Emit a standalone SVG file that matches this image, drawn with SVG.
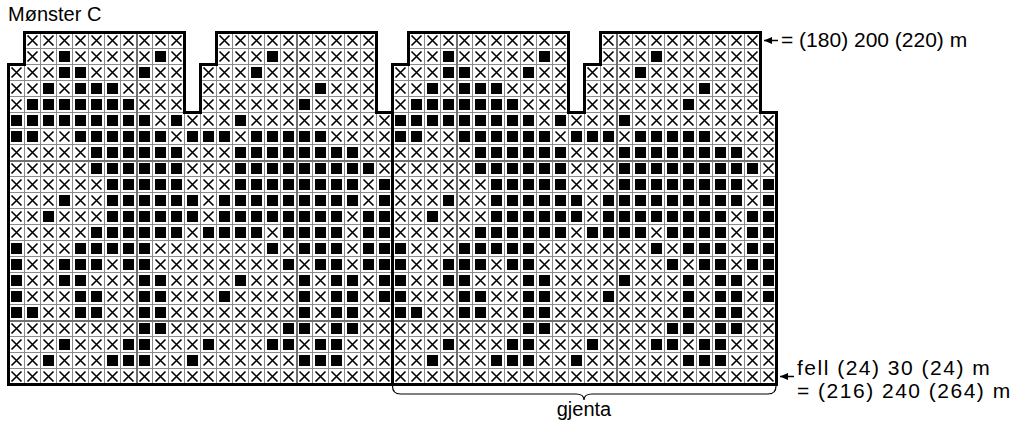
<svg xmlns="http://www.w3.org/2000/svg" width="1019" height="432" viewBox="0 0 1019 432">
<style>
text{font-family:"Liberation Sans",Arial,sans-serif;font-size:20px;fill:#000}
.r{font-size:21px}
.b{font-size:21px;letter-spacing:1.5px}
.o{fill:none;stroke:#000;stroke-width:3;stroke-linejoin:miter}
.g{fill:none;stroke:#707070;stroke-width:2}
.a{fill:none;stroke:#000;stroke-width:1.5}
.br{fill:none;stroke:#000;stroke-width:1.2}
</style>
<defs>
<pattern id="px" patternUnits="userSpaceOnUse" x="8" y="32" width="16" height="16">
<rect width="16" height="16" fill="#fff"/>
<rect width="16" height="1" fill="#8c8c8c"/>
<rect width="1" height="16" fill="#8c8c8c"/>
<path d="M3.5 3.5L13.5 13.5M13.5 3.5L3.5 13.5" stroke="#000" stroke-width="1.6"/>
</pattern>
<marker id="ah" markerUnits="userSpaceOnUse" viewBox="0 0 8 7" refX="8" refY="3.5" markerWidth="8" markerHeight="7" orient="auto"><path d="M0 0L8 3.5L0 7Z" fill="#000"/></marker>
<g id="k"><rect x="1" y="1" width="15" height="15" fill="#fff"/><rect x="3" y="3" width="11" height="11" fill="#000"/></g>
<path id="shape" d="M8.5 384.5V64.5H24.5V32.5H184.5V112.5H200.5V64.5H216.5V32.5H376.5V112.5H392.5V384.5Z"/>
<g id="cells">
<g transform="translate(0 16)"><use href="#k" x="48"/><use href="#k" x="144"/><use href="#k" x="256"/></g>
<g transform="translate(0 32)"><use href="#k" x="48"/><use href="#k" x="64"/><use href="#k" x="128"/><use href="#k" x="240"/></g>
<g transform="translate(0 48)"><use href="#k" x="32"/><use href="#k" x="64"/><use href="#k" x="80"/><use href="#k" x="96"/><use href="#k" x="304"/></g>
<g transform="translate(0 64)"><use href="#k" x="16"/><use href="#k" x="32"/><use href="#k" x="48"/><use href="#k" x="64"/><use href="#k" x="80"/><use href="#k" x="96"/><use href="#k" x="112"/><use href="#k" x="288"/></g>
<g transform="translate(0 80)"><use href="#k" x="0"/><use href="#k" x="16"/><use href="#k" x="32"/><use href="#k" x="48"/><use href="#k" x="64"/><use href="#k" x="80"/><use href="#k" x="96"/><use href="#k" x="112"/><use href="#k" x="128"/><use href="#k" x="160"/><use href="#k" x="224"/></g>
<g transform="translate(0 96)"><use href="#k" x="0"/><use href="#k" x="16"/><use href="#k" x="64"/><use href="#k" x="80"/><use href="#k" x="96"/><use href="#k" x="112"/><use href="#k" x="128"/><use href="#k" x="144"/><use href="#k" x="176"/><use href="#k" x="192"/><use href="#k" x="208"/><use href="#k" x="240"/><use href="#k" x="256"/><use href="#k" x="272"/><use href="#k" x="288"/><use href="#k" x="304"/></g>
<g transform="translate(0 112)"><use href="#k" x="80"/><use href="#k" x="96"/><use href="#k" x="112"/><use href="#k" x="128"/><use href="#k" x="144"/><use href="#k" x="160"/><use href="#k" x="224"/><use href="#k" x="240"/><use href="#k" x="256"/><use href="#k" x="272"/><use href="#k" x="288"/><use href="#k" x="304"/><use href="#k" x="320"/><use href="#k" x="336"/></g>
<g transform="translate(0 128)"><use href="#k" x="80"/><use href="#k" x="96"/><use href="#k" x="112"/><use href="#k" x="128"/><use href="#k" x="144"/><use href="#k" x="160"/><use href="#k" x="224"/><use href="#k" x="240"/><use href="#k" x="256"/><use href="#k" x="272"/><use href="#k" x="288"/><use href="#k" x="304"/><use href="#k" x="320"/><use href="#k" x="336"/><use href="#k" x="352"/></g>
<g transform="translate(0 144)"><use href="#k" x="96"/><use href="#k" x="112"/><use href="#k" x="128"/><use href="#k" x="144"/><use href="#k" x="160"/><use href="#k" x="224"/><use href="#k" x="240"/><use href="#k" x="256"/><use href="#k" x="272"/><use href="#k" x="288"/><use href="#k" x="304"/><use href="#k" x="320"/><use href="#k" x="336"/><use href="#k" x="368"/></g>
<g transform="translate(0 160)"><use href="#k" x="48"/><use href="#k" x="96"/><use href="#k" x="112"/><use href="#k" x="128"/><use href="#k" x="144"/><use href="#k" x="160"/><use href="#k" x="176"/><use href="#k" x="208"/><use href="#k" x="224"/><use href="#k" x="240"/><use href="#k" x="256"/><use href="#k" x="272"/><use href="#k" x="288"/><use href="#k" x="304"/><use href="#k" x="320"/><use href="#k" x="336"/><use href="#k" x="368"/></g>
<g transform="translate(0 176)"><use href="#k" x="32"/><use href="#k" x="96"/><use href="#k" x="112"/><use href="#k" x="128"/><use href="#k" x="144"/><use href="#k" x="160"/><use href="#k" x="176"/><use href="#k" x="208"/><use href="#k" x="224"/><use href="#k" x="240"/><use href="#k" x="256"/><use href="#k" x="272"/><use href="#k" x="288"/><use href="#k" x="304"/><use href="#k" x="320"/><use href="#k" x="352"/><use href="#k" x="368"/></g>
<g transform="translate(0 192)"><use href="#k" x="80"/><use href="#k" x="96"/><use href="#k" x="112"/><use href="#k" x="128"/><use href="#k" x="144"/><use href="#k" x="160"/><use href="#k" x="192"/><use href="#k" x="208"/><use href="#k" x="224"/><use href="#k" x="240"/><use href="#k" x="272"/><use href="#k" x="288"/><use href="#k" x="304"/><use href="#k" x="320"/><use href="#k" x="352"/><use href="#k" x="368"/></g>
<g transform="translate(0 208)"><use href="#k" x="0"/><use href="#k" x="64"/><use href="#k" x="80"/><use href="#k" x="96"/><use href="#k" x="112"/><use href="#k" x="128"/><use href="#k" x="256"/><use href="#k" x="288"/><use href="#k" x="304"/><use href="#k" x="320"/><use href="#k" x="352"/><use href="#k" x="368"/></g>
<g transform="translate(0 224)"><use href="#k" x="0"/><use href="#k" x="48"/><use href="#k" x="64"/><use href="#k" x="80"/><use href="#k" x="112"/><use href="#k" x="128"/><use href="#k" x="272"/><use href="#k" x="304"/><use href="#k" x="320"/><use href="#k" x="352"/><use href="#k" x="368"/></g>
<g transform="translate(0 240)"><use href="#k" x="0"/><use href="#k" x="48"/><use href="#k" x="64"/><use href="#k" x="128"/><use href="#k" x="144"/><use href="#k" x="224"/><use href="#k" x="288"/><use href="#k" x="320"/><use href="#k" x="336"/><use href="#k" x="368"/></g>
<g transform="translate(0 256)"><use href="#k" x="0"/><use href="#k" x="64"/><use href="#k" x="80"/><use href="#k" x="128"/><use href="#k" x="144"/><use href="#k" x="208"/><use href="#k" x="288"/><use href="#k" x="320"/><use href="#k" x="336"/><use href="#k" x="368"/></g>
<g transform="translate(0 272)"><use href="#k" x="0"/><use href="#k" x="16"/><use href="#k" x="64"/><use href="#k" x="80"/><use href="#k" x="128"/><use href="#k" x="144"/><use href="#k" x="288"/><use href="#k" x="320"/><use href="#k" x="336"/></g>
<g transform="translate(0 288)"><use href="#k" x="128"/><use href="#k" x="144"/><use href="#k" x="272"/><use href="#k" x="288"/><use href="#k" x="320"/><use href="#k" x="336"/></g>
<g transform="translate(0 304)"><use href="#k" x="48"/><use href="#k" x="112"/><use href="#k" x="128"/><use href="#k" x="192"/><use href="#k" x="256"/><use href="#k" x="272"/><use href="#k" x="304"/><use href="#k" x="320"/></g>
<g transform="translate(0 320)"><use href="#k" x="32"/><use href="#k" x="96"/><use href="#k" x="112"/><use href="#k" x="128"/><use href="#k" x="176"/><use href="#k" x="288"/><use href="#k" x="304"/><use href="#k" x="320"/></g>
</g>
</defs>
<g id="chart">
<g id="grid-left"><use href="#shape" fill="url(#px)"/><g transform="translate(8 32)"><use href="#cells"/></g></g>
<g id="grid-right"><use href="#shape" x="384" fill="url(#px)"/><g transform="translate(392 32)"><use href="#cells"/></g></g>
<path id="guides" class="g" d="M137 33V384M297 33V384M457 33V384M617 33V384M9 161H776M9 321H776"/>
<g id="outline"><use href="#shape" class="o"/><use href="#shape" x="384" class="o"/></g>
</g>
<g id="connectors">
<path class="a" d="M778 40.5H764" marker-end="url(#ah)"/>
<path class="a" d="M794 376.5H780" marker-end="url(#ah)"/>
<path id="brace" class="br" d="M392.5 386q0 8 8 8H576q8 0 8 6q0-6 8-6H768q8 0 8-8"/>
</g>
<g id="labels">
<text id="title" x="8" y="21">Mønster C</text>
<text id="lbl-top" class="r" x="781" y="47">= (180) 200 (220) m</text>
<text id="lbl-fell" class="b" x="797" y="375">fell (24) 30 (24) m</text>
<text id="lbl-total" class="b" x="797" y="398">= (216) 240 (264) m</text>
<text id="lbl-gjenta" x="584" y="416" text-anchor="middle">gjenta</text>
</g>
</svg>
